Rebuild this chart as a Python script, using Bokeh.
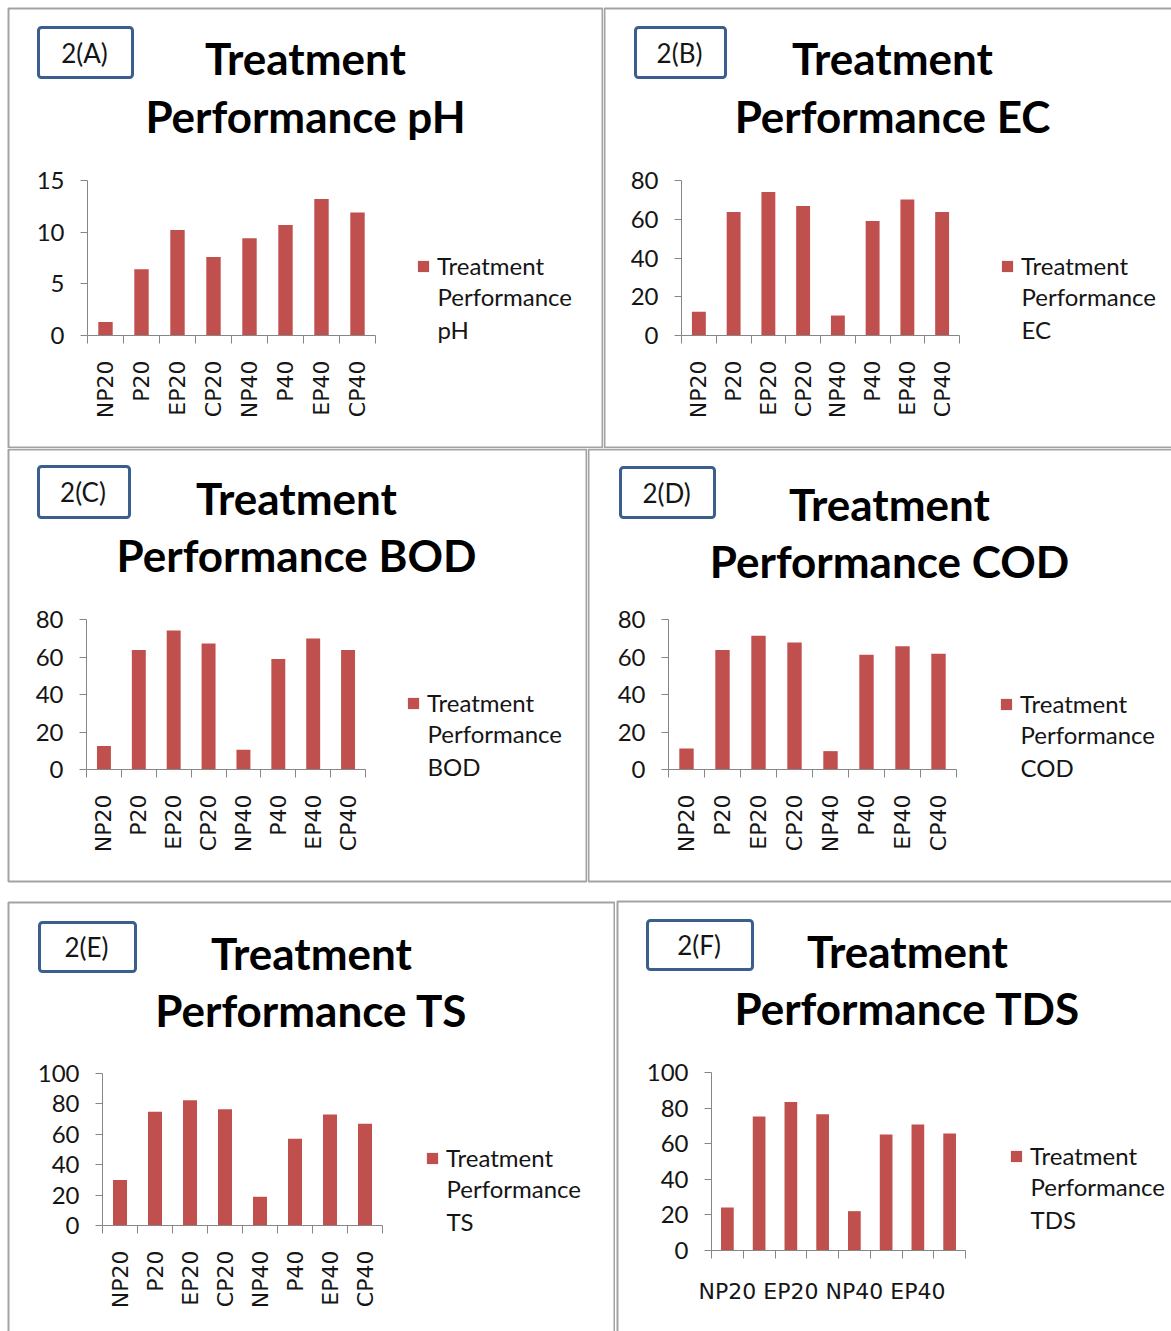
import math
from bokeh.plotting import figure
from bokeh.models import (Range1d, FixedTicker, LinearAxis, Label, BoxAnnotation,
                          Legend, LegendItem, ColumnDataSource)
from bokeh.layouts import column, row
from bokeh.embed import file_html
from bokeh.resources import INLINE
from bokeh.core.properties import value

# ---------------- data ----------------
categories = ["NP20", "P20", "EP20", "CP20", "NP40", "P40", "EP40", "CP40"]
ph_values = [1.3, 6.4, 10.2, 7.6, 9.4, 10.7, 13.2, 11.9]
ec_values = [12.2, 63.7, 74.1, 66.8, 10.3, 59.1, 70.2, 63.7]
bod_values = [12.6, 63.8, 74.1, 67.2, 10.6, 59.0, 69.9, 63.8]
cod_values = [11.2, 63.8, 71.3, 67.7, 9.8, 61.2, 65.8, 61.7]
ts_values = [29.9, 74.9, 82.4, 76.5, 18.9, 57.1, 73.0, 67.0]
tds_values = [24.1, 75.3, 83.4, 76.6, 22.1, 65.2, 70.8, 65.8]

panel_tags = ["2(A)", "2(B)", "2(C)", "2(D)", "2(E)", "2(F)"]
parameters = ["pH", "EC", "BOD", "COD", "TS", "TDS"]
y_ticks = [[0, 5, 10, 15], [0, 20, 40, 60, 80], [0, 20, 40, 60, 80],
           [0, 20, 40, 60, 80], [0, 20, 40, 60, 80, 100], [0, 20, 40, 60, 80, 100]]
legend_lines = ["Treatment", "Performance"]

BAR = "#C0504D"
AXIS = "#868686"
PANEL_LINE = "#a3a3a3"
TAG_LINE = "#3A5F8F"
TXT = "#151515"


def make_panel(tag, param, vals, yt, g, horizontal=False):
    W, H = g["W"], g["H"]
    L, R, T, B = g["frame"]          # plotting-area pixels inside the panel
    n = len(categories)
    ymax = yt[-1]
    kx = (R - L) / n
    ky = (B - T) / ymax
    x0 = -L / kx
    y0 = -(H - B) / ky
    p = figure(width=W, height=H,
               x_range=Range1d(x0, x0 + W / kx),
               y_range=Range1d(y0, y0 + H / ky),
               output_backend="svg", toolbar_location=None,
               x_axis_type=None, y_axis_type=None, title=None,
               min_border=0, min_border_left=0, min_border_right=0,
               min_border_top=0, min_border_bottom=0)
    p.outline_line_color = None
    p.xgrid.visible = False
    p.ygrid.visible = False
    p.background_fill_color = "white"
    p.border_fill_color = "white"

    centers = [i + 0.5 for i in range(n)]
    bounds = list(range(n + 1))
    src = ColumnDataSource(dict(x=centers, top=vals, cat=categories))
    r = p.vbar(x="x", top="top", bottom=0, width=0.4, source=src,
               fill_color=BAR, line_color=None)

    yaxis = LinearAxis(ticker=FixedTicker(ticks=yt), fixed_location=0,
                       bounds=(0, ymax),
                       axis_line_color=AXIS, major_tick_line_color=AXIS,
                       major_tick_out=7, major_tick_in=0, minor_tick_out=0,
                       minor_tick_in=0, major_label_standoff=16,
                       major_label_text_font="Lato",
                       major_label_text_font_size="24px",
                       major_label_text_color=TXT)
    p.add_layout(yaxis, "left")

    lab_ticks = centers[::2] if horizontal else centers
    overrides = {c: categories[i] for i, c in enumerate(centers) if c in lab_ticks}
    xaxis = LinearAxis(ticker=FixedTicker(ticks=lab_ticks, minor_ticks=bounds),
                       fixed_location=0, bounds=(0, n),
                       major_label_overrides=overrides,
                       axis_line_color=AXIS, major_tick_line_color=None,
                       major_tick_out=0, major_tick_in=0,
                       minor_tick_line_color=AXIS, minor_tick_out=8, minor_tick_in=0,
                       major_label_standoff=g.get("xstand", 17),
                       major_label_orientation="horizontal" if horizontal else math.pi / 2,
                       major_label_text_font="DejaVu Sans",
                       major_label_text_font_size="22px",
                       major_label_text_color=TXT)
    p.add_layout(xaxis, "below")

    def sy(cy):
        return H - cy

    # panel border
    bl, bt, br, bb = g["border"]
    p.add_layout(BoxAnnotation(left=bl, right=br, top=sy(bt), bottom=sy(bb),
                               left_units="screen", right_units="screen",
                               top_units="screen", bottom_units="screen",
                               fill_color=None, fill_alpha=0, line_color=PANEL_LINE,
                               line_alpha=1, line_width=2, level="underlay"))
    # tag box
    xl, yt_, xr, yb = g["box"]
    p.add_layout(BoxAnnotation(left=xl, right=xr, top=sy(yt_), bottom=sy(yb),
                               left_units="screen", right_units="screen",
                               top_units="screen", bottom_units="screen",
                               fill_color="white", fill_alpha=1, line_color=TAG_LINE,
                               line_alpha=1, line_width=3, border_radius=3))
    p.add_layout(Label(x=(xl + xr) / 2 - 1, y=sy((yt_ + yb) / 2), x_units="screen",
                       y_units="screen", text=tag, text_align="center",
                       text_baseline="middle", text_font="Lato",
                       text_font_size="26px", text_color=TXT))
    # title
    cx = g["title_cx"]
    for txt, cy in zip(["Treatment", "Performance " + param], g["title_cy"]):
        p.add_layout(Label(x=cx, y=sy(cy - 2.5), x_units="screen", y_units="screen",
                           text=txt, text_align="center", text_baseline="middle",
                           text_font="Lato", text_font_style="bold",
                           text_font_size="44px", text_color="black"))
    # legend: square + first line, further lines as labels below it
    ql, lc = g["leg"]                 # square left, first-line centre
    legend = Legend(items=[LegendItem(label=value(legend_lines[0]), renderers=[r])],
                    location=(ql, sy(lc + 14)),
                    padding=0, margin=0, spacing=0, border_line_color=None,
                    background_fill_alpha=0, glyph_width=14, glyph_height=14,
                    label_height=28, label_standoff=7, label_text_font="Lato",
                    label_text_font_size="24px", label_text_color=TXT)
    p.add_layout(legend)
    for k, txt in enumerate([legend_lines[1], param]):
        p.add_layout(Label(x=ql + 21, y=sy(lc + 32.5 * (k + 1) - 2.5), x_units="screen",
                           y_units="screen", text=txt, text_align="left",
                           text_baseline="middle", text_font="Lato",
                           text_font_size="24px", text_color=TXT))
    return p


geoms = [
    dict(W=603, H=448, border=(8, 8, 602, 447), frame=(87, 375, 180, 335),
         box=(38, 27, 132, 77), title_cx=305, title_cy=(60, 118), leg=(416, 266)),
    dict(W=568, H=448, border=(1, 8, 580, 447), frame=(78, 356, 180, 335),
         box=(32, 27, 122, 77), title_cx=289, title_cy=(60, 118), leg=(397, 266)),
    dict(W=587, H=443, border=(8, 1, 586, 433), frame=(86, 365, 171, 321),
         box=(38, 18, 129, 69), title_cx=296, title_cy=(52, 109), leg=(406, 255)),
    dict(W=584, H=443, border=(1, 1, 590, 433), frame=(81, 369, 171, 321),
         box=(33, 19, 127, 69), title_cx=302, title_cy=(58, 115), leg=(412, 256)),
    dict(W=615, H=440, border=(8, 11, 614, 450), frame=(102, 382, 182, 334),
         box=(39, 31, 135, 80), title_cx=311, title_cy=(64, 121), leg=(425, 267)),
    dict(W=556, H=440, border=(2, 10, 570, 450), frame=(96, 350, 181, 359),
         box=(32, 29, 137, 78), title_cx=292, title_cy=(62, 119), leg=(394, 265),
         xstand=20),
]

series = [ph_values, ec_values, bod_values, cod_values, ts_values, tds_values]
panels = [make_panel(panel_tags[i], parameters[i], series[i], y_ticks[i], geoms[i],
                     horizontal=(i == 5)) for i in range(6)]

layout = column(row(panels[0], panels[1], spacing=0),
                row(panels[2], panels[3], spacing=0),
                row(panels[4], panels[5], spacing=0), spacing=0)

open("out.html", "w").write(file_html(layout, INLINE))
